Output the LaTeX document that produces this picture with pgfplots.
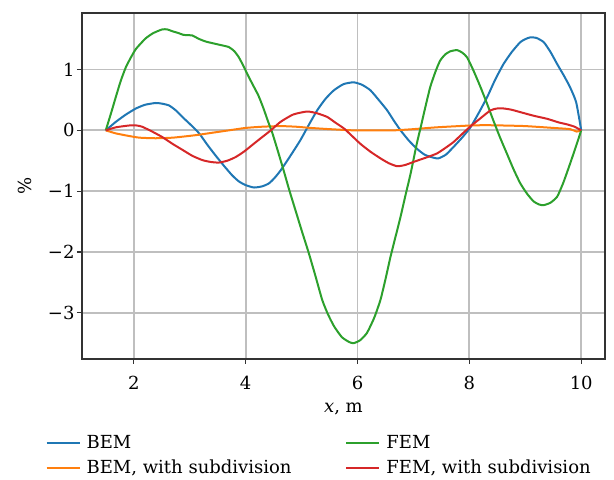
\documentclass[border=0pt]{standalone}
\usepackage{fontspec}
\setmainfont{DejaVu Serif}
\usepackage{pgfplots}
\pgfplotsset{compat=1.18}

\definecolor{cblue}{HTML}{1F77B4}
\definecolor{corange}{HTML}{FF7F0E}
\definecolor{cgreen}{HTML}{2CA02C}
\definecolor{cred}{HTML}{D62728}
\newcommand\F{\fontsize{18bp}{22bp}\selectfont}

\begin{document}
\begin{tikzpicture}
\begin{axis}[
    name=ax,
    scale only axis,
    width=523bp, height=346bp,
    xmin=1.075, xmax=10.425,
    ymin=-3.76, ymax=1.93,
    xtick={2,4,6,8,10},
    ytick={-3,-2,-1,0,1},
    yticklabels={−3,−2,−1,0,1},
    /pgf/number format/assume math mode=true,
    tick pos=left,
    tick align=outside,
    major tick length=5bp,
    tick style={black!80, line width=1.1bp},
    axis line style={black!80, line width=1.2bp},
    grid=major,
    major grid style={line width=1.8bp, draw=black!25},
    ticklabel style={font=\F},
    xticklabel style={yshift=-9bp},
    yticklabel style={xshift=1bp},
    xlabel={\textit{x}, m},
    ylabel={\%},
    xlabel style={yshift=-6bp},
    ylabel style={yshift=9bp},
    label style={font=\F},
    legend style={draw=none, fill=none, font=\F, inner sep=0pt,
        at={(-0.07,-0.215)}, anchor=north west, row sep=6bp,
        /tikz/every odd column/.append style={column sep=4bp},
        /tikz/every even column/.append style={column sep=52bp}},
    legend cell align=left,
    legend columns=2,
    legend image code/.code={\draw[#1] (0bp,0bp) -- (33bp,0bp);},
    every axis plot/.append style={line width=2bp, smooth, tension=0.35},
]
\addplot[cblue, forget plot] coordinates {
(1.5,0) (1.68,0.14) (1.86,0.26) (2.04,0.36) (2.2,0.42) (2.39,0.45) (2.5,0.44)
(2.63,0.41) (2.75,0.33) (2.87,0.22) (3.02,0.09) (3.17,-0.05) (3.31,-0.23)
(3.46,-0.41) (3.61,-0.58) (3.76,-0.74) (3.88,-0.84) (4.0,-0.90) (4.15,-0.94)
(4.30,-0.92) (4.42,-0.87) (4.52,-0.78) (4.625,-0.66) (4.80,-0.42) (4.98,-0.16)
(5.13,0.09) (5.28,0.33) (5.43,0.52) (5.58,0.66) (5.75,0.76) (5.93,0.79)
(6.08,0.75) (6.23,0.66) (6.38,0.50) (6.53,0.33) (6.65,0.16) (6.77,0.0)
(6.92,-0.17) (7.06,-0.30) (7.2,-0.40) (7.36,-0.45) (7.45,-0.46) (7.58,-0.40)
(7.72,-0.27) (7.87,-0.12) (8.02,0.05) (8.17,0.29) (8.32,0.55) (8.46,0.83)
(8.61,1.09) (8.76,1.29) (8.91,1.45) (9.00,1.50) (9.09,1.53) (9.20,1.52)
(9.33,1.45) (9.45,1.29) (9.57,1.09) (9.69,0.90) (9.80,0.71) (9.91,0.46) (10,0)
};
\addplot[corange, forget plot] coordinates {
(1.5,0) (1.68,-0.05) (1.9,-0.09) (2.1,-0.12) (2.39,-0.13) (2.7,-0.12)
(3.1,-0.08) (3.4,-0.04) (3.7,0.0) (4.0,0.04) (4.3,0.06) (4.625,0.07)
(4.9,0.06) (5.16,0.04) (5.5,0.02) (5.93,0.0) (6.3,0.0) (6.65,0.0) (7.0,0.02)
(7.42,0.05) (8.02,0.08) (8.3,0.085) (8.6,0.08) (9.0,0.07) (9.5,0.04)
(9.8,0.02) (9.92,-0.02) (10,0)
};
\addplot[cgreen, forget plot] coordinates {
(1.5,0) (1.6,0.30) (1.68,0.55) (1.77,0.82) (1.86,1.04) (1.95,1.20) (2.04,1.34)
(2.21,1.51) (2.35,1.60) (2.51,1.66) (2.6,1.66) (2.69,1.63) (2.8,1.60)
(2.89,1.57) (3.05,1.56) (3.15,1.51) (3.29,1.46) (3.52,1.41) (3.70,1.37)
(3.80,1.30) (3.88,1.20) (3.96,1.06) (4.05,0.89) (4.14,0.73) (4.23,0.57)
(4.32,0.36) (4.40,0.15) (4.48,-0.05) (4.58,-0.35) (4.68,-0.66) (4.78,-0.98)
(4.89,-1.31) (5.01,-1.67) (5.13,-2.02) (5.25,-2.40) (5.37,-2.79) (5.47,-3.02)
(5.58,-3.22) (5.72,-3.40) (5.85,-3.48) (5.93,-3.50)
(6.05,-3.45) (6.17,-3.33) (6.30,-3.08) (6.41,-2.79) (6.50,-2.45) (6.59,-2.08)
(6.68,-1.75) (6.77,-1.42) (6.86,-1.06) (6.95,-0.71) (7.06,-0.22) (7.125,0.03)
(7.20,0.33) (7.30,0.71) (7.40,0.98) (7.48,1.15) (7.57,1.25) (7.66,1.30)
(7.78,1.32) (7.87,1.28) (7.96,1.20) (8.08,0.97) (8.20,0.71) (8.32,0.43)
(8.43,0.16) (8.55,-0.12) (8.67,-0.38) (8.79,-0.64) (8.91,-0.87) (9.03,-1.04)
(9.15,-1.17) (9.25,-1.22) (9.33,-1.23) (9.45,-1.19) (9.57,-1.09) (9.68,-0.86)
(9.80,-0.55) (9.90,-0.28) (10.0,0)
};
\addplot[cred, forget plot] coordinates {
(1.5,0) (1.68,0.05) (1.92,0.08) (2.05,0.08) (2.15,0.06) (2.33,-0.02)
(2.51,-0.11) (2.69,-0.22) (2.87,-0.32) (3.05,-0.42) (3.23,-0.49) (3.38,-0.52)
(3.52,-0.53) (3.67,-0.50) (3.82,-0.44) (3.97,-0.35) (4.12,-0.24) (4.27,-0.13)
(4.45,0.0) (4.625,0.14) (4.85,0.26) (5.10,0.31) (5.28,0.28) (5.46,0.22)
(5.60,0.13) (5.76,0.03) (5.90,-0.09) (6.05,-0.22) (6.23,-0.35) (6.41,-0.46)
(6.56,-0.54) (6.71,-0.59) (6.85,-0.57) (7.0,-0.52) (7.125,-0.48) (7.25,-0.44)
(7.42,-0.38) (7.57,-0.29) (7.72,-0.19) (7.87,-0.06) (8.02,0.065) (8.2,0.20)
(8.38,0.33) (8.50,0.36) (8.61,0.36) (8.75,0.34) (8.91,0.30) (9.15,0.24)
(9.39,0.19) (9.6,0.13) (9.74,0.10) (9.88,0.06) (10,0)
};
\addlegendimage{cblue, line width=2bp}
\addlegendentry{BEM}
\addlegendimage{cgreen, line width=2bp}
\addlegendentry{FEM}
\addlegendimage{corange, line width=2bp}
\addlegendentry{BEM, with subdivision}
\addlegendimage{cred, line width=2bp}
\addlegendentry{FEM, with subdivision}
\end{axis}
\pgfresetboundingbox
\path[use as bounding box] ([shift={(-82bp,-121bp)}]ax.south west)
    rectangle ([shift={(9bp,13bp)}]ax.north east);
\end{tikzpicture}
\end{document}
